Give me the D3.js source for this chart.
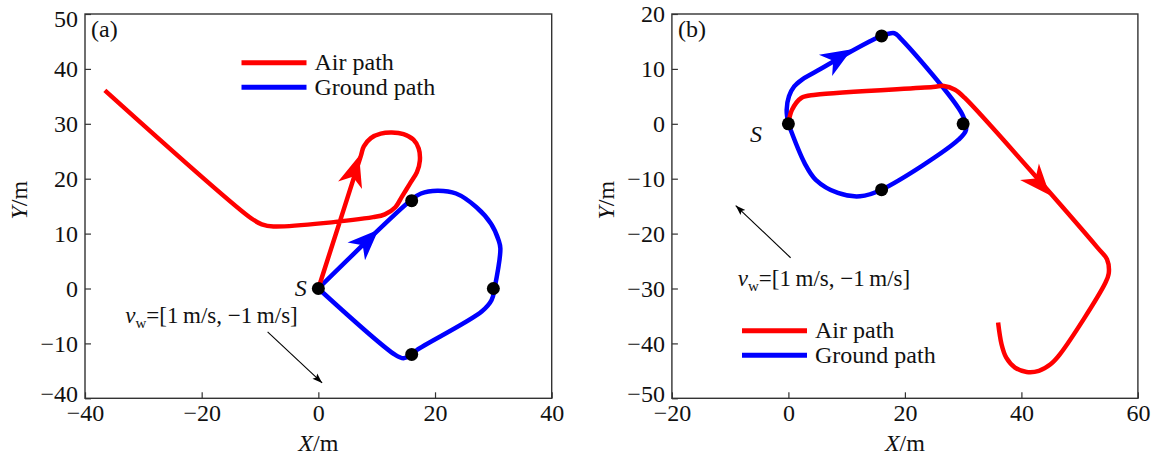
<!DOCTYPE html>
<html><head><meta charset="utf-8">
<script src="https://cdn.jsdelivr.net/npm/d3@7"></script>
<style>body{margin:0;background:#fff}svg{display:block}text{font-family:"Liberation Serif","Times New Roman",serif;fill:#111}</style>
</head><body><svg id="c" width="1156" height="457"></svg>
<script>
// ---------- data ----------
const xTicksA = [-40, -20, 0, 20, 40];
const yTicksA = [-20, -10, 0, 10, 20, 30, 40, 50];
const yTickLabelsA = ["−40", "−10", "0", "10", "20", "30", "40", "50"];
const xTicksB = [-20, 0, 20, 40, 60];
const yTicksB = [-50, -40, -30, -20, -10, 0, 10, 20];
const yTickLabelsB = ["−50", "−40", "−30", "−20", "−10", "0", "10", "20"];
const xTickLabelsA = ["−40", "−20", "0", "20", "40"];
const xTickLabelsB = ["−20", "0", "20", "40", "60"];

const seriesNames = ["Air path", "Ground path"];

const airPathA = [[0,0],[7.3,24.2],[7.8,25.9],[9.0,27.4],[10.7,28.2],[12.6,28.4],[14.6,28.1],[16.3,27.1],[17.2,25.5],[17.4,23.3],[16.9,21.2],[15.7,19.1],[14.3,16.7],[13.2,14.8],[11.4,13.5],[9.4,13.0],[-7.7,11.3],[-9.7,11.7],[-11.4,12.7],[-36.6,36.1]];
const groundPathA = [[0,0],[15.9,16.1],[17.6,17.3],[20.4,17.8],[23.6,17.3],[27.1,14.8],[29.6,11.8],[30.9,8.8],[31.2,7.3],[30.2,0],[29.7,-2.1],[28.0,-4.2],[16.9,-11.2],[16,-12],[14.6,-12.7],[13.2,-12.1],[0,0]];
const airPathB = [[0,0],[0.6,2.5],[2.2,4.7],[4.7,5.3],[24.8,6.7],[26.7,6.9],[28.6,6.2],[30.2,4.8],[53.1,-22.6],[54.7,-24.7],[55.0,-27.2],[54.4,-29.0],[46.6,-42.0],[45.0,-43.8],[43.0,-45.0],[40.9,-45.2],[38.9,-44.4],[37.4,-42.6],[36.6,-40.2],[36.0,-36.2]];
const groundPathB = [[0,0],[-0.3,2.5],[0.1,5.0],[1.0,6.8],[2.4,8.1],[4.2,9.2],[16,16],[18.2,16.5],[19.2,15.6],[29.9,1.6],[30.5,-1.1],[29.2,-2.9],[16,-12],[12.3,-13.2],[8.5,-12.6],[4.7,-10.2],[2.8,-7.2],[0,0]];
const waypoints = [[0,0],[16,16],[30,0],[16,-12]];

// direction arrows: tip and a point behind it on the path
const airArrowA = [[7.0,24.2],[0,0]];
const groundArrowA = [[10.3,10.7],[0,0]];
const airArrowB = [[44.9,-13.0],[30.2,4.8]];
const groundArrowB = [[10.9,13.6],[4.2,9.2]];

// wind vectors (from, to) in data units
const windA = [[-8.7,-7.9],[0.65,-17.2]];
const windB = [[0.38,-24.4],[-9.05,-14.9]];
const windText = ["v", "w", "=[1\u2009m/s, −1\u2009m/s]"];

// ---------- drawing ----------
const svg = d3.select("#c");
const RED = "#ff0000", BLUE = "#0000ff";

function panel(cfg) {
  const x = d3.scaleLinear().domain(cfg.xd).range([cfg.left, cfg.right]);
  const y = d3.scaleLinear().domain(cfg.yd).range([cfg.bottom, cfg.top]);
  const g = svg.append("g");

  // inward ticks
  const xa = d3.axisBottom(x).tickValues(cfg.xt).tickSize(-6).tickPadding(9)
    .tickFormat((d, i) => cfg.xl[i]);
  const gx = g.append("g").attr("transform", `translate(0,${cfg.bottom})`).call(xa);
  gx.select(".domain").remove();
  gx.selectAll("line").attr("stroke", "#333").attr("stroke-width", 1.2);
  gx.selectAll("text").attr("font-size", 24).attr("fill", "#111")
    .attr("dy", "0.71em").attr("y", 6);

  const ya = d3.axisLeft(y).tickValues(cfg.yt).tickSize(-6).tickPadding(8)
    .tickFormat((d, i) => cfg.yl[i]);
  const gy = g.append("g").attr("transform", `translate(${cfg.left},0)`).call(ya);
  gy.select(".domain").remove();
  gy.selectAll("line").attr("stroke", "#333").attr("stroke-width", 1.2);
  gy.selectAll("text").attr("font-size", 24).attr("fill", "#111").attr("x", -7)
    .attr("y", (d, i, n) => i === 0 ? cfg.yShiftLow : (i === n.length - 1 ? cfg.yShiftHigh : 0));

  // frame
  g.append("rect").attr("x", cfg.left).attr("y", cfg.top)
    .attr("width", cfg.right - cfg.left).attr("height", cfg.bottom - cfg.top)
    .attr("fill", "none").attr("stroke", "#333").attr("stroke-width", 1.4);

  // titles
  const xt = g.append("text").attr("x", (cfg.left + cfg.right) / 2).attr("y", 451)
    .attr("text-anchor", "middle").attr("font-size", 24);
  xt.append("tspan").attr("font-style", "italic").text("X");
  xt.append("tspan").text("/m");
  const yt = g.append("text")
    .attr("transform", `translate(${cfg.ylabX},${(cfg.top + cfg.bottom) / 2 - 6}) rotate(-90)`)
    .attr("text-anchor", "middle").attr("font-size", 24);
  yt.append("tspan").attr("font-style", "italic").text("Y");
  yt.append("tspan").text("/m");

  g.append("text").attr("x", cfg.left + 6).attr("y", cfg.top + 23)
    .attr("font-size", 24).text(cfg.tag);

  const line = d3.line().x(d => x(d[0])).y(d => y(d[1])).curve(d3.curveCatmullRom.alpha(0.5));
  const clip = "clip" + cfg.tag.replace(/\W/g, "");
  svg.append("clipPath").attr("id", clip).append("rect")
    .attr("x", cfg.left).attr("y", cfg.top).attr("width", cfg.right - cfg.left).attr("height", cfg.bottom - cfg.top);
  const pg = g.append("g").attr("clip-path", `url(#${clip})`);

  pg.append("path").datum(cfg.ground).attr("d", line).attr("fill", "none")
    .attr("stroke", BLUE).attr("stroke-width", 4.5).attr("stroke-linejoin", "round");
  pg.append("path").datum(cfg.air).attr("d", line).attr("fill", "none")
    .attr("stroke", RED).attr("stroke-width", 4.5).attr("stroke-linejoin", "round");

  function head(tipD, fromD, color, L, W, N) {
    const tx = x(tipD[0]), ty = y(tipD[1]);
    const fx = x(fromD[0]), fy = y(fromD[1]);
    let ux = tx - fx, uy = ty - fy; const m = Math.hypot(ux, uy); ux /= m; uy /= m;
    const nx = -uy, ny = ux;
    const pts = [[tx, ty], [tx - L * ux + W * nx, ty - L * uy + W * ny], [tx - N * ux, ty - N * uy],
      [tx - L * ux - W * nx, ty - L * uy - W * ny]];
    pg.append("path").attr("d", "M" + pts.map(p => p.join(",")).join("L") + "Z").attr("fill", color);
  }
  head(cfg.airArrow[0], cfg.airArrow[1], RED, 31, 12.5, 22);
  head(cfg.groundArrow[0], cfg.groundArrow[1], BLUE, 31, 12.5, 22);

  pg.selectAll("circle.wp").data(waypoints).join("circle").attr("class", "wp")
    .attr("cx", d => x(d[0])).attr("cy", d => y(d[1])).attr("r", 6.5).attr("fill", "#000");

  // wind vector
  const w0 = cfg.wind[0], w1 = cfg.wind[1];
  pg.append("line").attr("x1", x(w0[0])).attr("y1", y(w0[1])).attr("x2", x(w1[0])).attr("y2", y(w1[1]))
    .attr("stroke", "#000").attr("stroke-width", 1.1);
  head(w1, w0, "#000", 10, 3.5, 8);

  const wt = g.append("text").attr("x", x(cfg.windPos[0])).attr("y", y(cfg.windPos[1])).attr("font-size", 23);
  wt.append("tspan").attr("font-style", "italic").text(windText[0]);
  wt.append("tspan").attr("font-size", 15).attr("dy", 5).text(windText[1]);
  wt.append("tspan").attr("dy", -5).text(windText[2]);

  g.append("text").attr("x", x(cfg.sPos[0])).attr("y", y(cfg.sPos[1]))
    .attr("text-anchor", cfg.sAnchor).attr("font-style", "italic").attr("font-size", 24).text("S");

  // legend
  const lg = g.append("g");
  [RED, BLUE].forEach((c, i) => {
    const ly = cfg.legY + i * 24.6;
    lg.append("line").attr("x1", cfg.legX).attr("x2", cfg.legX + 65).attr("y1", ly).attr("y2", ly)
      .attr("stroke", c).attr("stroke-width", 5);
    lg.append("text").attr("x", cfg.legX + 73).attr("y", ly + 7.5).attr("font-size", 24).text(seriesNames[i]);
  });
}

panel({ tag: "(a)", xd: [-40, 40], yd: [-20, 50], left: 85, right: 551.7, top: 14, bottom: 398.3,
  xt: xTicksA, xl: xTickLabelsA, yt: yTicksA, yl: yTickLabelsA, ylabX: 27, yShiftLow: -4, yShiftHigh: 5,
  air: airPathA, ground: groundPathA, airArrow: airArrowA, groundArrow: groundArrowA,
  wind: windA, windPos: [-33.1, -6.3], sPos: [-2.0, -1.4], sAnchor: "end",
  legX: 241.5, legY: 62.7 });

panel({ tag: "(b)", xd: [-20, 60], yd: [-50, 20], left: 671.9, right: 1137.9, top: 14, bottom: 398.3,
  xt: xTicksB, xl: xTickLabelsB, yt: yTicksB, yl: yTickLabelsB, ylabX: 614, yShiftLow: -4, yShiftHigh: 0,
  air: airPathB, ground: groundPathB, airArrow: airArrowB, groundArrow: groundArrowB,
  wind: windB, windPos: [-8.7, -29.5], sPos: [-6.6, -3.4], sAnchor: "start",
  legX: 742, legY: 330.7 });
</script></body></html>
